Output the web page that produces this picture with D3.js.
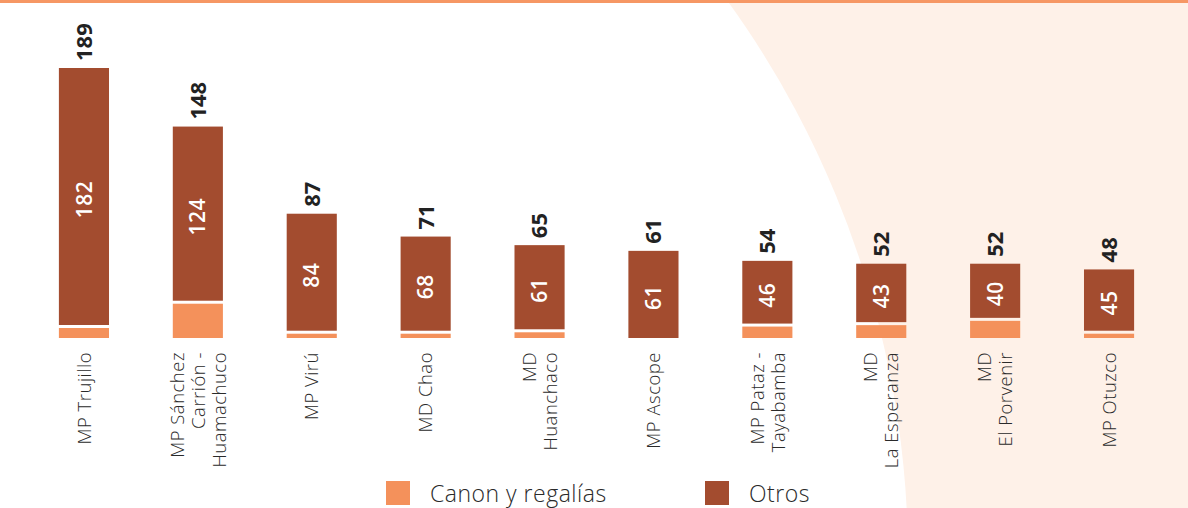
<!DOCTYPE html>
<html>
<head>
<meta charset="utf-8">
<script src="https://cdn.jsdelivr.net/npm/d3@7"></script>
<style>
  body { margin: 0; background: #fff; }
  svg { display: block; font-family: "Open Sans", sans-serif; }
</style>
</head>
<body>
<div id="chart"></div>
<script>
// categories and values
var categories = ['MP Trujillo', 'MP Sánchez\nCarrión -\nHuamachuco', 'MP Virú', 'MD Chao',
  'MD\nHuanchaco', 'MP Ascope', 'MP Pataz -\nTayabamba', 'MD\nLa Esperanza',
  'MD\nEl Porvenir', 'MP Otuzco']
var totals = [189, 148, 87, 71, 65, 61, 54, 52, 52, 48]
var otros = [182, 124, 84, 68, 61, 61, 46, 43, 40, 45]
var seriesNames = ['Canon y regalías', 'Otros']

var width = 1188, height = 508
var canonColor = '#f4915b'
var otrosColor = '#a34c2f'

var svg = d3.select('#chart').append('svg')
    .attr('width', width)
    .attr('height', height)

// background: peach with a big white disc on the left
svg.append('rect')
    .attr('width', width).attr('height', height)
    .style('fill', '#fef1e8')
svg.append('circle')
    .attr('cx', -45).attr('cy', 559).attr('r', 953)
    .style('fill', '#fff')
svg.append('rect')
    .attr('width', width).attr('height', 3)
    .style('fill', '#f69764')

var x = d3.scaleBand()
    .domain(d3.range(categories.length))
    .range([27, 1166])
    .paddingInner(0.56)
    .paddingOuter(0.28)

var y = d3.scaleLinear()
    .domain([0, 189])
    .range([338, 68])

var gap = 3

var bars = svg.selectAll('g.bar')
    .data(categories.map(function (c, i) {
      return { name: c, total: totals[i], otros: otros[i], canon: totals[i] - otros[i], i: i }
    }))
    .enter().append('g')
    .attr('class', 'bar')

// canon segment (bottom)
bars.filter(function (d) { return d.canon > 0 })
  .append('rect')
    .attr('x', function (d) { return x(d.i) })
    .attr('width', x.bandwidth())
    .attr('y', function (d) { return y(d.canon) })
    .attr('height', function (d) { return y(0) - y(d.canon) })
    .style('fill', canonColor)

// otros segment (top), separated by a small white gap
bars.append('rect')
    .attr('x', function (d) { return x(d.i) })
    .attr('width', x.bandwidth())
    .attr('y', function (d) { return y(d.total) })
    .attr('height', function (d) {
      var bottom = d.canon > 0 ? y(d.canon) - gap : y(0)
      return bottom - y(d.total)
    })
    .style('fill', otrosColor)

// inner labels
bars.append('text')
    .attr('transform', function (d) {
      var bottom = d.canon > 0 ? y(d.canon) - gap : y(0)
      var mid = (y(d.total) + bottom) / 2 + 3
      return 'translate(' + (x(d.i) + x.bandwidth() / 2) + ',' + mid + ') rotate(-90)'
    })
    .attr('dy', '0.36em')
    .attr('text-anchor', 'middle')
    .style('fill', '#fff')
    .style('font-weight', 600)
    .style('font-size', '21px')
    .style('letter-spacing', '0.5px')
    .text(function (d) { return d.otros })

// total labels
bars.append('text')
    .attr('transform', function (d) {
      return 'translate(' + (x(d.i) + x.bandwidth() / 2) + ',' + (y(d.total) - 7) + ') rotate(-90)'
    })
    .attr('dy', '0.36em')
    .attr('text-anchor', 'start')
    .style('fill', '#222')
    .style('font-weight', 700)
    .style('font-size', '22px')
    .text(function (d) { return d.total })

// category labels, one text per line
bars.each(function (d) {
  var lines = d.name.split('\n')
  var g = d3.select(this)
  lines.forEach(function (line, k) {
    var off = (k - (lines.length - 1) / 2) * 21
    g.append('text')
        .attr('transform', 'translate(' + (x(d.i) + x.bandwidth() / 2 + off) + ',352) rotate(-90)')
        .attr('dy', '0.36em')
        .attr('text-anchor', 'end')
        .style('fill', '#2a2a2a')
        .style('font-size', '18.5px')
        .style('font-weight', 300)
        .style('letter-spacing', '0.5px')
        .text(line)
  })
})

// legend
var legendX = [386, 705]
var legend = svg.selectAll('g.legend')
    .data(seriesNames)
    .enter().append('g')
    .attr('class', 'legend')
    .attr('transform', function (d, i) { return 'translate(' + legendX[i] + ',481)' })

legend.append('rect')
    .attr('width', 24).attr('height', 24)
    .style('fill', function (d, i) { return i === 0 ? canonColor : otrosColor })

legend.append('text')
    .attr('x', 44)
    .attr('y', 21)
    .style('fill', '#2a2a2a')
    .style('font-size', '23px')
    .style('font-weight', 300)
    .style('letter-spacing', '0.5px')
    .text(function (d) { return d })
</script>
</body>
</html>
